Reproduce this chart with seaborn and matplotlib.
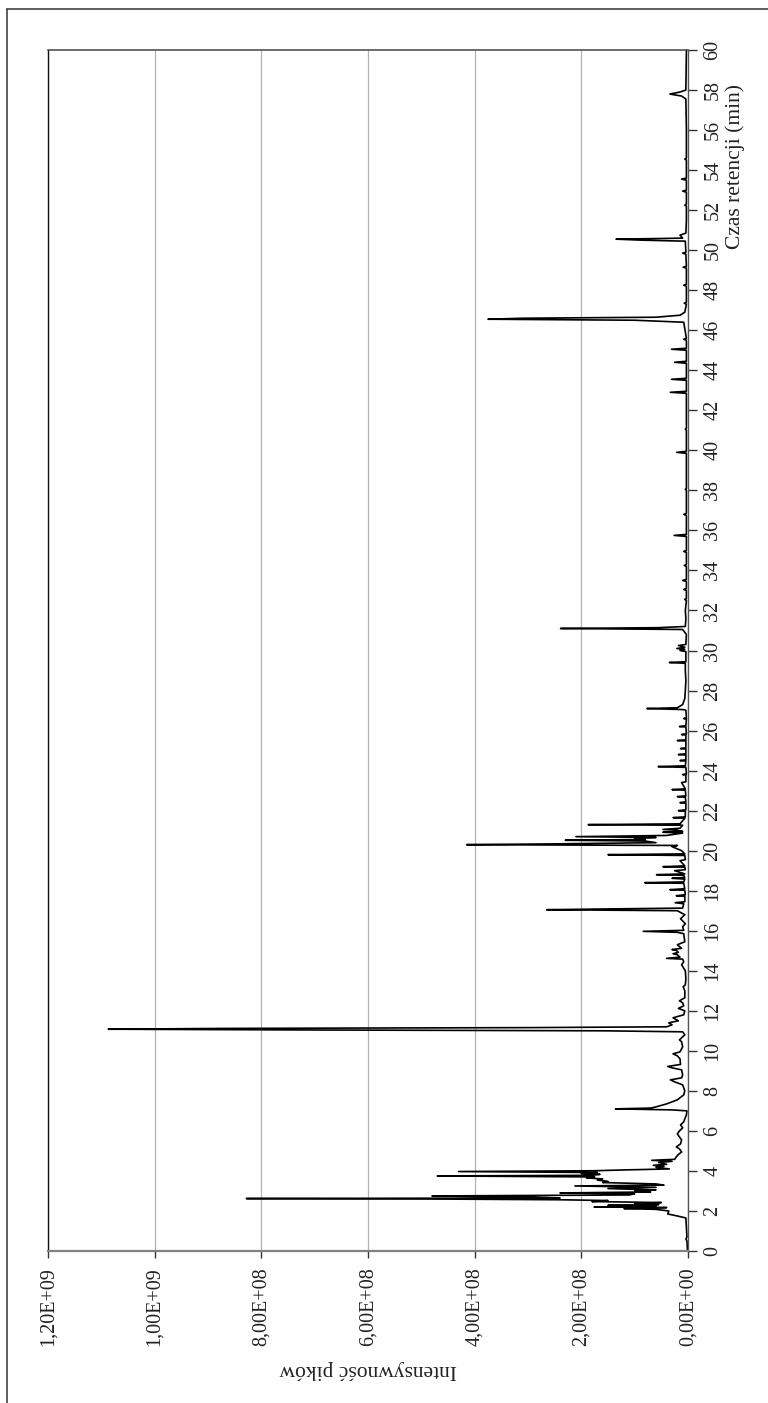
import matplotlib
matplotlib.use("Agg")
import pandas as pd
import matplotlib.pyplot as plt
from matplotlib.lines import Line2D
import seaborn as sns

# chromatogram: retention time (min) and peak intensity (in millions)
retention_time = [
    0.00, 0.50, 0.60, 0.70, 1.20, 1.65, 1.75, 1.85, 2.00, 2.08,
    2.12, 2.17, 2.20, 2.24, 2.28, 2.32, 2.38, 2.42, 2.47, 2.52,
    2.56, 2.60, 2.62, 2.65, 2.70, 2.75, 2.80, 2.86, 2.90, 2.95,
    3.00, 3.05, 3.12, 3.18, 3.25, 3.29, 3.35, 3.42, 3.48, 3.54,
    3.60, 3.65, 3.70, 3.75, 3.78, 3.83, 3.87, 3.92, 3.97, 4.01,
    4.05, 4.10, 4.18, 4.23, 4.28, 4.33, 4.42, 4.48, 4.53, 4.58,
    4.70, 4.80, 4.95, 5.10, 5.20, 5.35, 5.55, 5.70, 5.85, 6.00,
    6.15, 6.30, 6.45, 6.60, 6.80, 7.00, 7.05, 7.10, 7.14, 7.20,
    7.35, 7.55, 7.80, 8.00, 8.30, 8.45, 8.55, 8.65, 8.80, 9.05,
    9.15, 9.22, 9.32, 9.60, 9.75, 9.85, 9.95, 10.20, 10.45, 10.55,
    10.80, 10.95, 11.00, 11.04, 11.08, 11.12, 11.16, 11.20, 11.30, 11.40,
    11.50, 11.65, 11.80, 12.00, 12.12, 12.25, 12.40, 12.50, 12.65, 13.00,
    13.20, 13.30, 13.60, 14.00, 14.30, 14.45, 14.58, 14.62, 14.68, 14.80,
    14.85, 14.92, 15.02, 15.06, 15.12, 15.30, 15.45, 15.85, 15.92, 15.97,
    16.02, 16.20, 16.35, 16.60, 16.80, 17.00, 17.05, 17.09, 17.13, 17.35,
    17.40, 17.45, 17.72, 17.75, 17.80, 18.02, 18.05, 18.10, 18.37, 18.40,
    18.44, 18.58, 18.62, 18.66, 18.77, 18.80, 18.84, 19.00, 19.05, 19.17,
    19.20, 19.24, 19.50, 19.55, 19.76, 19.80, 19.84, 20.00, 20.20, 20.26,
    20.30, 20.34, 20.40, 20.48, 20.52, 20.56, 20.62, 20.66, 20.70, 20.76,
    20.88, 20.92, 20.96, 21.02, 21.06, 21.12, 21.27, 21.30, 21.34, 21.50,
    21.62, 21.65, 21.69, 21.97, 22.00, 22.04, 22.37, 22.40, 22.44, 22.67,
    22.70, 22.74, 23.02, 23.05, 23.09, 23.40, 23.44, 23.78, 23.80, 23.84,
    24.16, 24.20, 24.24, 24.48, 24.50, 24.54, 24.78, 24.80, 24.84, 25.08,
    25.10, 25.14, 25.48, 25.50, 25.54, 25.78, 25.80, 25.84, 26.18, 26.20,
    26.24, 26.58, 26.60, 26.64, 27.02, 27.05, 27.10, 27.14, 27.30, 27.60,
    28.00, 28.50, 29.00, 29.36, 29.40, 29.44, 29.95, 30.00, 30.06, 30.10,
    30.16, 30.25, 30.30, 30.80, 31.05, 31.10, 31.14, 31.20, 31.60, 32.00,
    32.50, 32.55, 32.60, 33.00, 33.05, 33.10, 33.45, 33.50, 33.55, 34.20,
    34.25, 34.30, 34.90, 34.95, 35.00, 35.70, 35.75, 35.80, 36.75, 36.80,
    36.85, 38.00, 38.05, 38.10, 39.85, 39.90, 39.95, 41.00, 41.05, 41.10,
    42.85, 42.90, 42.95, 43.50, 43.55, 43.60, 44.35, 44.40, 44.45, 45.00,
    45.05, 45.10, 45.50, 45.55, 45.60, 46.40, 46.50, 46.55, 46.60, 46.65,
    46.75, 46.90, 47.30, 47.35, 47.40, 48.20, 48.25, 48.30, 49.10, 49.15,
    49.20, 49.80, 49.85, 49.90, 50.45, 50.50, 50.55, 50.60, 50.75, 50.85,
    51.50, 52.20, 52.25, 52.30, 52.90, 52.95, 53.00, 53.50, 53.55, 53.60,
    54.50, 54.55, 54.60, 56.00, 57.55, 57.70, 57.80, 57.90, 58.00, 60.00,
]
intensity_mln = [
    1, 2, 4, 2, 3, 4, 20, 38, 36, 60,
    120, 40, 176, 60, 150, 55, 100, 50, 180, 150,
    240, 500, 828, 240, 300, 480, 110, 100, 240, 70,
    100, 60, 150, 60, 212, 45, 60, 160, 150, 170,
    160, 190, 175, 470, 180, 165, 200, 170, 430, 175,
    120, 35, 60, 45, 65, 40, 55, 30, 68, 25,
    22, 19, 12, 16, 22, 14, 12, 16, 20, 16,
    10, 14, 8, 6, 3, 2, 30, 136, 70, 60,
    40, 20, 8, 6, 10, 25, 33, 12, 10, 12,
    30, 38, 14, 15, 20, 28, 15, 10, 12, 16,
    6, 10, 157, 680, 1087, 870, 300, 40, 30, 36,
    18, 28, 8, 6, 18, 8, 10, 16, 6, 6,
    9, 5, 4, 5, 12, 8, 10, 40, 15, 20,
    28, 18, 22, 30, 12, 20, 6, 8, 20, 84,
    8, 10, 5, 14, 6, 20, 265, 150, 10, 8,
    24, 6, 6, 22, 5, 6, 34, 6, 8, 81,
    8, 6, 30, 6, 8, 59, 6, 25, 5, 6,
    47, 6, 15, 5, 6, 150, 6, 12, 30, 20,
    415, 250, 60, 80, 230, 80, 100, 60, 210, 40,
    10, 47, 10, 20, 47, 15, 10, 187, 15, 10,
    6, 28, 5, 5, 18, 4, 4, 15, 4, 5,
    20, 4, 5, 30, 5, 12, 4, 4, 10, 3,
    4, 56, 5, 4, 15, 4, 4, 18, 4, 4,
    14, 4, 4, 20, 4, 4, 12, 3, 4, 16,
    4, 3, 8, 3, 4, 10, 77, 20, 10, 6,
    5, 4, 5, 5, 35, 4, 4, 15, 6, 21,
    6, 18, 4, 3, 10, 239, 56, 5, 4, 5,
    3, 6, 3, 3, 8, 3, 3, 10, 3, 3,
    7, 3, 3, 8, 3, 3, 26, 3, 3, 8,
    3, 3, 5, 3, 3, 21, 3, 3, 5, 3,
    3, 33, 3, 3, 31, 3, 3, 25, 3, 3,
    31, 3, 3, 8, 3, 8, 100, 375, 310, 60,
    15, 6, 3, 7, 3, 3, 8, 3, 3, 9,
    3, 4, 10, 4, 5, 87, 135, 10, 15, 4,
    3, 3, 6, 3, 3, 10, 3, 3, 12, 3,
    3, 6, 3, 3, 4, 12, 34, 15, 4, 3,
]

intensity_ticks = [0, 200, 400, 600, 800, 1000, 1200]
intensity_labels = ['0,00E+00', '2,00E+08', '4,00E+08', '6,00E+08',
                    '8,00E+08', '1,00E+09', '1,20E+09']
time_ticks = [0, 2, 4, 6, 8, 10, 12, 14, 16, 18, 20, 22, 24, 26, 28, 30,
              32, 34, 36, 38, 40, 42, 44, 46, 48, 50, 52, 54, 56, 58, 60]

sns.set_style("white")
plt.rcParams['font.family'] = ['Liberation Serif', 'DejaVu Serif']

df = pd.DataFrame({'czas': retention_time, 'intensywnosc': intensity_mln})

fig = plt.figure(figsize=(7.68, 14.03), dpi=100)
ax = fig.add_axes([0.0625, 0.10834, 0.83333, 0.85602])

# the chart is drawn turned a quarter turn: time runs up, intensity runs to the left
sns.lineplot(data=df, x='intensywnosc', y='czas', orient='y', sort=False,
             estimator=None, color='black', lw=1.2, ax=ax)

ax.set_xlim(1200, 0)
ax.set_ylim(0, 60)

ax.set_xticks(intensity_ticks)
ax.set_xticklabels(intensity_labels, rotation=90)
ax.yaxis.tick_right()
ax.set_yticks(time_ticks)
ax.set_yticklabels([str(t) for t in time_ticks], rotation=90, va='center')

ax.tick_params(axis='x', direction='out', length=5, width=1, pad=6.5,
               labelsize=14.5, color='#333333', labelcolor='#222222', bottom=True)
ax.tick_params(axis='y', direction='out', length=6.5, width=1, pad=4.5,
               labelsize=14.5, color='#333333', labelcolor='#222222', right=True, left=False)

ax.grid(axis='x', color='#b3b3b3', lw=0.9)
ax.grid(axis='y', visible=False)

ax.spines['left'].set_color('#111111')
ax.spines['left'].set_linewidth(1.0)
ax.spines['top'].set_color('#444444')
ax.spines['top'].set_linewidth(1.1)
ax.spines['right'].set_color('#555555')
ax.spines['right'].set_linewidth(1.0)
ax.spines['bottom'].set_color('#808080')
ax.spines['bottom'].set_linewidth(1.6)

ax.set_xlabel('Intensywność pików', rotation=180, fontsize=15.5,
              va='center', ha='center', color='#222222')
ax.xaxis.set_label_coords(0.5, -0.0983)
ax.yaxis.set_label_position('right')
ax.set_ylabel('Czas retencji (min)', rotation=90, fontsize=15.5,
              va='center', ha='center', color='#222222')
ax.yaxis.set_label_coords(1.0734, 0.9026)

# outer frame, cut off at the right and bottom edges of the page
fig.add_artist(Line2D([7 / 768, 1.0], [1 - 9 / 1403, 1 - 9 / 1403],
                      transform=fig.transFigure, color='#444444', lw=1.2))
fig.add_artist(Line2D([7 / 768, 7 / 768], [0.0, 1 - 9 / 1403],
                      transform=fig.transFigure, color='#444444', lw=1.2))

fig.savefig('out.png', dpi=100)
